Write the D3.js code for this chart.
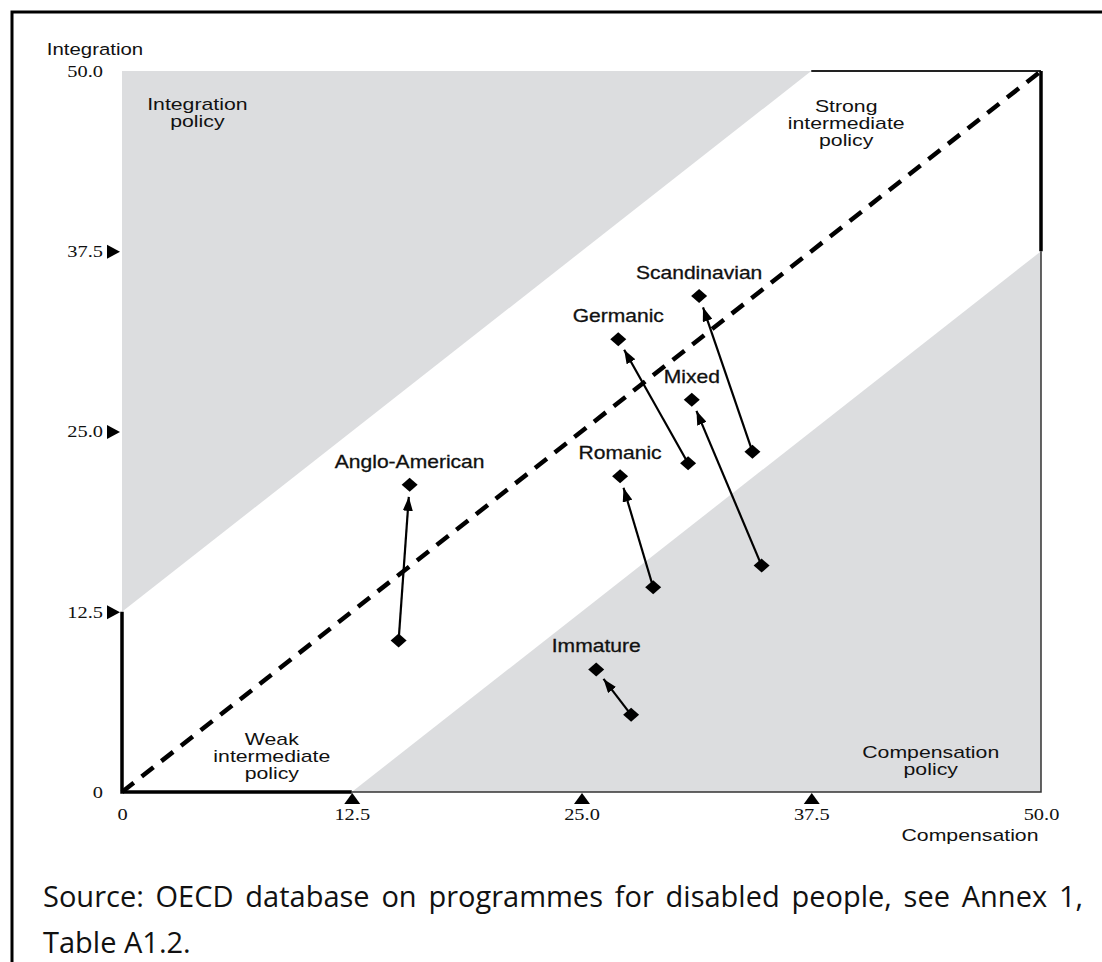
<!DOCTYPE html>
<html>
<head>
<meta charset="utf-8">
<script src="https://cdn.jsdelivr.net/npm/d3@7"></script>
<style>
  body { margin: 0; background: #fff; }
  .lab { font-family: "Liberation Sans", Arial, sans-serif; fill: #111; }
  .tick-lab { font-family: "Liberation Serif", "Times New Roman", serif; fill: #111; font-size: 17px; }
  .src { font-family: "Open Sans", "Noto Sans", sans-serif; font-size: 29px; fill: #111; }
</style>
</head>
<body>
<div id="chart"></div>
<script>
// groups of countries, first and second position (arrow from 1 to 2)
var groups = ["Anglo-American", "Romanic", "Germanic", "Mixed", "Scandinavian", "Immature"];
var comp1  = [15.05, 28.9, 30.8, 34.8, 34.3, 27.7];
var integ1 = [10.5, 14.2, 22.8, 15.7, 23.6, 5.35];
var comp2  = [15.65, 27.1, 27.0, 31.0, 31.4, 25.8];
var integ2 = [21.3, 21.9, 31.4, 27.2, 34.4, 8.5];

var tickValues = [0, 12.5, 25, 37.5, 50];
var tickLabels = ["0", "12.5", "25.0", "37.5", "50.0"];

var regionNames = [["Integration", "policy"], ["Strong", "intermediate", "policy"],
                   ["Weak", "intermediate", "policy"], ["Compensation", "policy"]];
var regionComp  = [4.1, 39.4, 8.15, 44.0];
var regionInteg = [47.7, 47.6, 3.7, 2.8];

var sourceLines = ["Source: OECD database on programmes for disabled people, see Annex 1,",
                   "Table A1.2."];

var data = groups.map((g, i) => ({ name: g, x1: comp1[i], y1: integ1[i], x2: comp2[i], y2: integ2[i] }));

var width = 1102, height = 962;

var svg = d3.select("#chart").append("svg")
    .attr("width", width)
    .attr("height", height);

var x = d3.scaleLinear().domain([0, 50]).range([122, 1041]);
var y = d3.scaleLinear().domain([0, 50]).range([792, 71]);

// stretched text helper (the original type is wide)
function stext(g, px, py, str, size, k, cls) {
    return g.append("text")
        .attr("class", cls || "lab")
        .attr("transform", `translate(${px},${py}) scale(${k},1)`)
        .attr("text-anchor", "middle")
        .style("font-size", size + "px")
        .text(str);
}

/* OUTER FRAME */
svg.append("path")
    .attr("d", `M12,${height} L12,12 L${width},12`)
    .attr("fill", "none")
    .attr("stroke", "#000")
    .attr("stroke-width", 3);

/* GREY REGIONS */
var grey = "#dcdddf";
var area = svg.append("g");
area.append("path")
    .attr("d", d3.line()([[x(0), y(12.5)], [x(37.5), y(50)], [x(0), y(50)]]) + "Z")
    .attr("fill", grey);
area.append("path")
    .attr("d", d3.line()([[x(12.5), y(0)], [x(50), y(37.5)], [x(50), y(0)]]) + "Z")
    .attr("fill", grey);

// thin borders
area.append("path")
    .attr("d", d3.line()([[x(12.5), y(0)], [x(50), y(0)], [x(50), y(37.5)]]))
    .attr("fill", "none").attr("stroke", "#333").attr("stroke-width", 1.5);
area.append("path")
    .attr("d", d3.line()([[x(37.5), y(50)], [x(50), y(50)]]))
    .attr("fill", "none").attr("stroke", "#222").attr("stroke-width", 2);

// thick frame segments
area.append("path")
    .attr("d", d3.line()([[x(0), y(12.5)], [x(0), y(0)], [x(12.5), y(0)]]))
    .attr("fill", "none").attr("stroke", "#000").attr("stroke-width", 3.5);
area.append("path")
    .attr("d", d3.line()([[x(50), y(50)], [x(50), y(37.5)]]))
    .attr("fill", "none").attr("stroke", "#000").attr("stroke-width", 3.5);

/* DIAGONAL */
svg.append("line")
    .attr("x1", x(0)).attr("y1", y(0))
    .attr("x2", x(50)).attr("y2", y(50))
    .attr("stroke", "#000")
    .attr("stroke-width", 4.5)
    .attr("stroke-dasharray", "15,10");

/* AXES */
var yAxis = d3.axisLeft(y).tickValues(tickValues).tickSize(0).tickPadding(19)
    .tickFormat((d, i) => tickLabels[i]);
var gy = svg.append("g").attr("transform", `translate(${x(0)},0)`).call(yAxis);
gy.select(".domain").remove();
gy.selectAll(".tick text")
    .attr("class", "tick-lab")
    .attr("font-family", null).attr("font-size", null)
    .attr("transform", "scale(1.2,1)")
    .attr("x", -19 / 1.2);
gy.selectAll(".tick").filter(d => d > 0 && d < 50)
    .append("path")
    .attr("d", "M-15,-7 L-2,0 L-15,7 Z")
    .attr("fill", "#000");

var xAxis = d3.axisBottom(x).tickValues(tickValues).tickSize(0).tickPadding(16)
    .tickFormat((d, i) => tickLabels[i]);
var gx = svg.append("g").attr("transform", `translate(0,${y(0)})`).call(xAxis);
gx.select(".domain").remove();
gx.selectAll(".tick text")
    .attr("class", "tick-lab")
    .attr("font-family", null).attr("font-size", null)
    .attr("transform", "scale(1.2,1)");
gx.selectAll(".tick").filter(d => d > 0 && d < 50)
    .append("path")
    .attr("d", "M-8,12 L0,1 L8,12 Z")
    .attr("fill", "#000");

// axis titles
stext(svg, x(0) - 27, y(50) - 16, "Integration", 17, 1.2);
stext(svg, x(50) - 71, y(0) + 49, "Compensation", 17, 1.25);

/* REGION LABELS */
regionNames.forEach(function(lines, i) {
    lines.forEach(function(t, j) {
        stext(svg, x(regionComp[i]), y(regionInteg[i]) + 6 + j * 17, t, 17, 1.25);
    });
});

/* ARROWS */
svg.append("defs").append("marker")
    .attr("id", "head")
    .attr("markerUnits", "userSpaceOnUse")
    .attr("markerWidth", 14).attr("markerHeight", 10)
    .attr("refX", 14).attr("refY", 5)
    .attr("orient", "auto")
    .append("path")
    .attr("d", "M0,0 L14,5 L0,10 Z")
    .attr("fill", "#000");

var arrows = svg.append("g");
data.forEach(function(d) {
    var sx = x(d.x1), sy = y(d.y1), ex = x(d.x2), ey = y(d.y2);
    var len = Math.hypot(ex - sx, ey - sy);
    var cut = 12 / len;
    arrows.append("line")
        .attr("x1", sx).attr("y1", sy)
        .attr("x2", ex - (ex - sx) * cut).attr("y2", ey - (ey - sy) * cut)
        .attr("stroke", "#000")
        .attr("stroke-width", 2.2)
        .attr("marker-end", "url(#head)");
});

var diamond = "M0,-7 L8,0 L0,7 L-8,0 Z";
var pts = data.flatMap(d => [[d.x1, d.y1], [d.x2, d.y2]]);
arrows.selectAll(".pt")
    .data(pts)
    .enter()
    .append("path")
        .attr("class", "pt")
        .attr("d", diamond)
        .attr("transform", d => `translate(${x(d[0])},${y(d[1])})`)
        .attr("fill", "#000");

data.forEach(function(d) {
    stext(arrows, x(d.x2), y(d.y2) - 17, d.name, 18, 1.17)
        .attr("stroke", "#111").attr("stroke-width", 0.3);
});

/* SOURCE NOTE (justified first line) */
var srcLeft = 43, srcRight = 1083;
sourceLines.forEach(function(t, i) {
    var tx = svg.append("text")
        .attr("class", "src")
        .attr("x", srcLeft)
        .attr("y", 907 + i * 46)
        .text(t);
    if (i === 0) {
        var w = tx.node().getComputedTextLength();
        var spaces = t.split(" ").length - 1;
        tx.style("word-spacing", ((srcRight - srcLeft - w) / spaces) + "px");
    }
});
</script>
</body>
</html>
